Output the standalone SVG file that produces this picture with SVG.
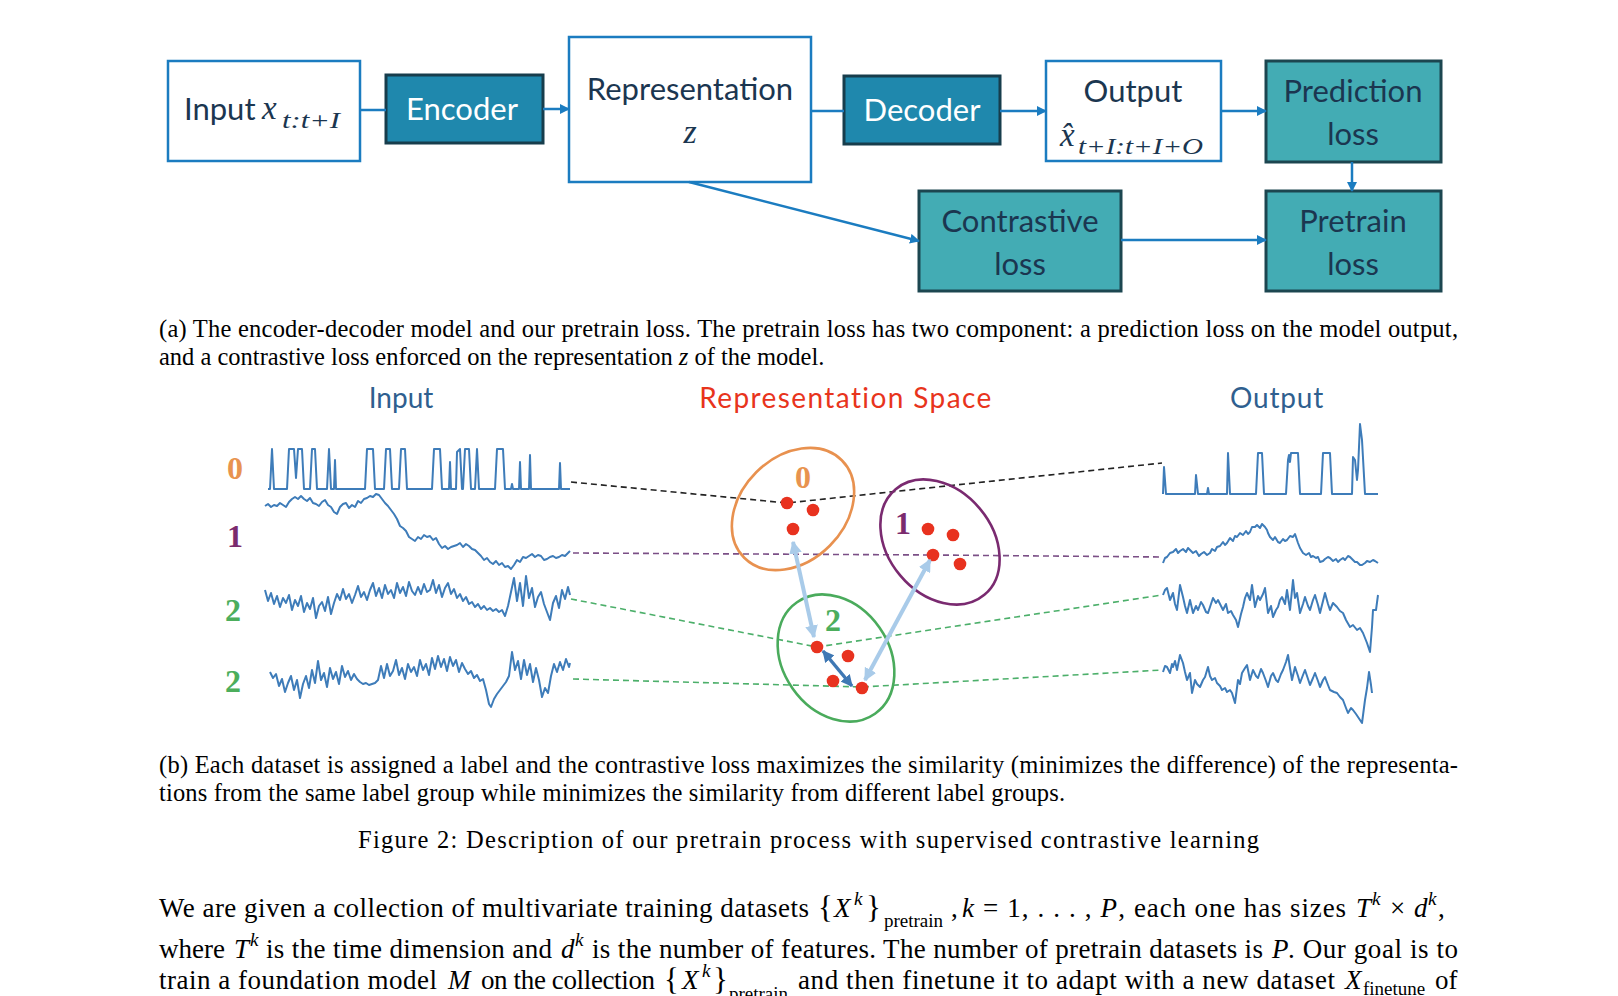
<svg xmlns="http://www.w3.org/2000/svg" width="1618" height="996" viewBox="0 0 1618 996">
<defs>
<style>
.bw{fill:#fff;stroke:#1b7cc0;stroke-width:2.5}
.bd{fill:#1f88ad;stroke:#173d4c;stroke-width:3}
.bt{fill:#43acb4;stroke:#1c4650;stroke-width:3}
.lb{font-family:Lato,"Open Sans",sans-serif;font-size:31px;text-anchor:middle}
.dk{fill:#1b3650}
.wt{fill:#fff}
.mi{font-family:"Liberation Serif",serif;font-style:italic}
.conn{stroke:#1b7cc0;stroke-width:2.5;fill:none}
.cap{font-family:"Liberation Serif",serif;font-size:24.5px;fill:#000}
.body{font-family:"Liberation Serif",serif;font-size:27px;fill:#000}
.it{font-style:italic}
.sm{font-size:19px}
.ts{fill:none;stroke:#3e7cb9;stroke-width:2;stroke-linejoin:round}
.dash{fill:none;stroke-width:1.6;stroke-dasharray:6 4}
.num{font-family:"Liberation Serif",serif;font-weight:bold;font-size:32px;text-anchor:middle}
.ttl{font-family:Lato,"Open Sans",sans-serif;font-size:28px;text-anchor:middle}
.dot{fill:#e8321f}
</style>
<marker id="ah" viewBox="0 0 10 10" refX="9" refY="5" markerWidth="4" markerHeight="4" orient="auto-start-reverse"><path d="M0,0 L10,5 L0,10 z" fill="#1b7cc0"/></marker>
<marker id="lb" viewBox="0 0 10 10" refX="9" refY="5" markerWidth="3.2" markerHeight="3.2" orient="auto-start-reverse"><path d="M0,0 L10,5 L0,10 z" fill="#a9cbe9"/></marker>
<marker id="db" viewBox="0 0 10 10" refX="9" refY="5" markerWidth="3.4" markerHeight="3.4" orient="auto-start-reverse"><path d="M0,0 L10,5 L0,10 z" fill="#3f78b4"/></marker>
</defs>
<rect width="1618" height="996" fill="#fff"/>

<!-- (a) nodes -->
<g id="input">
<rect class="bw" x="168" y="61" width="192" height="100"/>
<text x="184" y="120" font-family="Lato,'Open Sans',sans-serif" font-size="31" class="dk">Input</text>
<text x="262" y="119" class="mi dk" font-size="33">x</text>
<text x="282" y="128" class="mi dk" font-size="24" textLength="58" lengthAdjust="spacingAndGlyphs">t:t+I</text>
</g>
<g id="encoder">
<rect class="bd" x="386" y="75" width="157" height="68"/>
<text class="lb wt" x="462" y="120">Encoder</text>
</g>
<g id="representation">
<rect class="bw" x="569" y="37" width="242" height="145"/>
<text class="lb dk" x="690" y="100">Representation</text>
<text class="mi dk" x="690" y="143" font-size="34" text-anchor="middle">z</text>
</g>
<g id="decoder">
<rect class="bd" x="844" y="76" width="156" height="68"/>
<text class="lb wt" x="922" y="121">Decoder</text>
</g>
<g id="output">
<rect class="bw" x="1046" y="61" width="175" height="100"/>
<text class="lb dk" x="1133" y="102">Output</text>
<text class="mi dk" x="1060" y="146" font-size="33">x&#x302;</text>
<text x="1078" y="154" class="mi dk" font-size="24" textLength="125" lengthAdjust="spacingAndGlyphs">t+I:t+I+O</text>
</g>
<g id="prediction-loss">
<rect class="bt" x="1266" y="61" width="175" height="101"/>
<text class="lb dk" x="1353" y="102">Prediction</text>
<text class="lb dk" x="1353" y="145">loss</text>
</g>
<g id="contrastive-loss">
<rect class="bt" x="919" y="191" width="202" height="100"/>
<text class="lb dk" x="1020" y="232">Contrastive</text>
<text class="lb dk" x="1020" y="275">loss</text>
</g>
<g id="pretrain-loss">
<rect class="bt" x="1266" y="191" width="175" height="100"/>
<text class="lb dk" x="1353" y="232">Pretrain</text>
<text class="lb dk" x="1353" y="275">loss</text>
</g>

<g id="connectors">
<line class="conn" x1="360" y1="110" x2="386" y2="110"/>
<line class="conn" x1="543" y1="109" x2="569" y2="109" marker-end="url(#ah)"/>
<line class="conn" x1="811" y1="111" x2="844" y2="111"/>
<line class="conn" x1="1000" y1="111" x2="1046" y2="111" marker-end="url(#ah)"/>
<line class="conn" x1="1221" y1="111" x2="1266" y2="111" marker-end="url(#ah)"/>
<line class="conn" x1="1352" y1="162" x2="1352" y2="191" marker-end="url(#ah)"/>
<line class="conn" x1="689" y1="182" x2="919" y2="241" marker-end="url(#ah)"/>
<line class="conn" x1="1121" y1="240" x2="1266" y2="240" marker-end="url(#ah)"/>
</g>

<!-- caption (a) -->
<text class="cap" x="159" y="337" textLength="1299" lengthAdjust="spacing">(a) The encoder-decoder model and our pretrain loss. The pretrain loss has two component: a prediction loss on the model output,</text>
<text class="cap" x="159" y="365">and a contrastive loss enforced on the representation <tspan class="it">z</tspan> of the model.</text>

<!-- (b) titles -->
<text class="ttl" x="401" y="408" fill="#2f5f8f">Input</text>
<text class="ttl" x="846" y="408" fill="#e8341c" letter-spacing="1.4">Representation Space</text>
<text class="ttl" x="1277" y="408" fill="#2f5f8f" letter-spacing="0.8">Output</text>

<text class="num" x="235" y="479" fill="#e8934f">0</text>
<text class="num" x="235" y="547" fill="#7b2b6e">1</text>
<text class="num" x="233" y="621" fill="#4cae5c">2</text>
<text class="num" x="233" y="692" fill="#4cae5c">2</text>

<!-- dashed links -->
<g id="links">
<polyline class="dash" stroke="#222" points="571,482 787,503 1162,463"/>
<polyline class="dash" stroke="#7b4f86" points="573,553 933,555 1162,557"/>
<polyline class="dash" stroke="#4caf6a" points="571,599 817,647 1162,595"/>
<polyline class="dash" stroke="#4caf6a" points="573,679 862,687 1162,670"/>
</g>

<!-- input series -->
<g id="input-series">
<polyline class="ts" points="268,489 270,489 272,449 274,489 287,489 289,449 294,449 296,478 298,449 302,449 304,489 310,489 312,449 315,449 317,489 327,489 329,449 331,489 334,489 335,460 336,489 365,489 367,449 373,449 375,489 384,489 386,449 390,449 392,489 399,489 401,449 405,449 407,489 432,489 434,449 440,449 442,489 449,489 450,462 451,489 456,489 457,452 460,449 462,489 463,489 465,449 469,449 471,489 475,489 477,449 479,489 495,489 497,449 503,449 505,489 511,489 512,484 513,489 519,489 520,462 521,489 529,489 530,455 531,489 559,489 560,463 561,489 570,489"/>
<polyline class="ts" points="265,506 268,504 271,507 274,505 277,506 280,503 283,505 286,507 289,502 292,499 295,497 298,499 301,496 304,499 307,501 310,498 313,503 316,504 319,506 322,502 325,500 328,505 331,507 334,512 337,514 340,507 343,504 346,503 349,508 352,505 355,507 358,501 361,503 364,499 367,498 370,496 373,497 376,494 379,495 382,499 385,503 388,506 391,510 394,514 397,519 400,526 403,528 406,531 409,537 412,539 415,541 418,537 421,539 424,535 427,537 430,536 433,540 436,538 439,544 442,548 445,546 448,549 451,547 454,546 457,545 460,543 463,547 466,544 469,546 472,549 475,550 478,553 481,556 484,560 487,558 490,562 493,564 496,561 499,565 502,563 505,567 508,566 511,569 514,565 517,560 520,562 523,557 526,558 529,556 532,554 535,557 538,555 541,556 544,560 547,559 550,557 553,556 556,558 559,557 562,555 565,556 568,553 570,551"/>
<polyline class="ts" points="265,590 268,601 271,593 274,604 277,596 280,607 283,598 286,603 289,595 292,610 295,600 298,606 301,596 304,612 307,603 310,609 313,598 316,618 319,606 322,602 325,611 328,597 331,614 334,603 337,594 340,600 343,589 346,599 349,594 352,603 355,595 358,586 361,597 364,592 367,600 370,590 373,583 376,596 379,588 382,598 385,585 388,594 391,590 394,598 397,583 400,593 403,587 406,596 409,582 412,591 415,595 418,587 421,594 424,584 427,592 430,590 433,580 436,593 439,585 442,597 445,588 448,583 451,594 454,589 457,598 460,594 463,601 466,597 469,604 472,602 475,607 478,604 481,609 484,606 487,610 490,608 493,611 496,609 499,612 502,610 505,616 508,606 511,592 514,578 517,601 520,583 523,606 526,576 529,598 532,588 535,607 538,597 541,592 544,604 547,612 550,620 553,603 556,596 559,608 562,590 565,599 568,587 570,595"/>
<polyline class="ts" points="270,672 273,678 276,674 279,686 282,679 285,692 288,683 291,676 294,690 297,680 300,698 303,684 306,676 309,688 312,670 315,683 318,661 321,680 324,673 327,687 330,668 333,679 336,672 339,684 342,666 345,677 348,671 351,680 354,674 357,679 360,682 363,684 366,683 369,685 372,684 375,683 378,680 381,666 384,678 387,664 390,676 393,671 396,660 399,675 402,668 405,679 408,664 411,672 414,667 417,676 420,660 423,670 426,664 429,675 432,658 435,669 438,656 441,667 444,659 447,671 450,657 453,666 456,660 459,672 462,663 465,669 468,674 471,671 474,678 477,675 480,681 483,679 486,690 489,704 491,707 494,699 497,694 500,690 503,686 506,682 509,676 512,652 515,670 518,661 521,679 524,660 527,675 530,664 533,682 536,668 539,680 542,697 545,688 548,693 551,676 554,664 557,672 560,662 563,670 566,659 569,667 570,663"/>
</g>

<!-- output series -->
<g id="output-series">
<polyline class="ts" points="1163,494 1164,467 1166,494 1195,494 1196,475 1198,494 1207,494 1208,488 1209,494 1227,494 1228,453 1230,494 1256,494 1258,453 1262,453 1264,494 1286,494 1288,460 1289,455 1290,462 1291,453 1298,453 1300,494 1321,494 1323,453 1330,453 1332,494 1352,494 1353,457 1355,460 1357,480 1358,470 1360,424 1362,440 1365,494 1378,494"/>
<polyline class="ts" points="1163,563 1165,558 1167,557 1170,553 1173,552 1176,549 1178,553 1180,551 1183,549 1186,552 1188,548 1190,550 1193,553 1196,551 1199,556 1201,554 1204,552 1207,555 1210,553 1212,549 1215,551 1217,547 1220,546 1223,542 1225,545 1227,543 1230,538 1233,541 1235,536 1237,537 1240,533 1243,535 1246,531 1248,534 1250,532 1252,527 1255,527 1257,525 1260,528 1262,524 1265,527 1267,530 1268,533 1270,537 1273,540 1275,537 1278,542 1280,543 1283,539 1285,541 1287,540 1290,536 1293,537 1295,534 1298,543 1300,548 1303,553 1306,555 1309,553 1311,557 1313,556 1316,558 1318,557 1320,562 1323,561 1325,559 1328,557 1330,558 1333,561 1336,559 1338,562 1340,560 1343,558 1345,560 1348,556 1350,557 1353,560 1355,562 1357,562 1360,565 1362,565 1365,563 1367,561 1370,562 1373,560 1375,561 1378,563"/>
<polyline class="ts" points="1163,595 1165,590 1167,588 1170,600 1173,593 1175,604 1177,610 1180,585 1183,597 1185,606 1187,613 1190,600 1193,613 1196,606 1198,610 1201,602 1203,605 1206,612 1208,613 1211,604 1213,598 1216,603 1218,600 1221,606 1223,610 1226,604 1228,613 1231,611 1233,615 1236,620 1238,627 1241,614 1243,607 1245,598 1247,593 1250,600 1252,585 1255,607 1258,596 1260,600 1263,594 1265,588 1268,613 1271,606 1273,617 1276,610 1278,607 1280,600 1282,597 1285,604 1287,590 1290,610 1293,580 1295,598 1297,593 1300,613 1303,604 1305,597 1308,606 1310,610 1313,600 1315,595 1318,605 1320,613 1323,601 1325,593 1328,604 1330,610 1333,603 1337,607 1340,611 1343,613 1346,620 1350,627 1353,625 1357,630 1360,628 1363,633 1365,638 1367,643 1370,652 1372,627 1373,610 1376,610 1378,595"/>
<polyline class="ts" points="1163,672 1165,666 1167,667 1170,673 1172,664 1173,667 1175,661 1177,670 1180,655 1183,663 1185,672 1187,680 1190,673 1192,693 1195,680 1197,684 1200,687 1203,680 1205,677 1208,667 1210,676 1212,680 1215,678 1217,683 1220,686 1222,690 1225,688 1227,692 1230,690 1232,693 1235,703 1238,680 1240,684 1242,673 1245,668 1247,665 1250,680 1253,670 1256,676 1258,678 1261,669 1263,673 1266,681 1268,687 1271,676 1273,673 1276,680 1278,682 1281,674 1283,670 1286,662 1288,655 1290,668 1292,680 1295,667 1298,676 1300,683 1303,675 1305,670 1308,679 1310,685 1313,678 1315,673 1318,681 1320,687 1323,680 1325,677 1328,685 1330,690 1334,692 1337,693 1340,697 1343,700 1346,708 1348,713 1351,708 1353,710 1356,714 1358,717 1360,720 1362,723 1365,700 1367,688 1369,672 1371,685 1372,693"/>
</g>

<!-- representation space -->
<g id="cluster-0">
<ellipse cx="793" cy="509" rx="69" ry="52" transform="rotate(-45 793 509)" fill="none" stroke="#e8914f" stroke-width="2.6"/>
<text class="num" x="803" y="488" font-size="31" fill="#e8934f">0</text>
<circle class="dot" cx="787" cy="503" r="6.3"/>
<circle class="dot" cx="813" cy="510" r="6.3"/>
<circle class="dot" cx="793" cy="529" r="6.3"/>
</g>
<g id="cluster-1">
<ellipse cx="940" cy="542" rx="69" ry="52" transform="rotate(50 940 542)" fill="none" stroke="#7a2a70" stroke-width="2.6"/>
<text class="num" x="903" y="534" font-size="31" fill="#7b2b6e">1</text>
<circle class="dot" cx="928" cy="529" r="6.3"/>
<circle class="dot" cx="953" cy="535" r="6.3"/>
<circle class="dot" cx="933" cy="555" r="6.3"/>
<circle class="dot" cx="960" cy="564" r="6.3"/>
</g>
<g id="cluster-2">
<ellipse cx="836" cy="658" rx="68" ry="53" transform="rotate(55 836 658)" fill="none" stroke="#4aab5c" stroke-width="2.6"/>
<text class="num" x="833" y="631" font-size="31" fill="#4cae5c">2</text>
<circle class="dot" cx="817" cy="647" r="6.3"/>
<circle class="dot" cx="848" cy="656" r="6.3"/>
<circle class="dot" cx="833" cy="681" r="6.3"/>
<circle class="dot" cx="862" cy="688" r="6.3"/>
</g>
<g id="similarity-arrows">
<line x1="793" y1="542" x2="814" y2="637" stroke="#a9cbe9" stroke-width="4" marker-start="url(#lb)" marker-end="url(#lb)"/>
<line x1="930" y1="560" x2="865" y2="680" stroke="#a9cbe9" stroke-width="4" marker-start="url(#lb)" marker-end="url(#lb)"/>
<line x1="823" y1="651" x2="852" y2="686" stroke="#3f78b4" stroke-width="3.5" marker-start="url(#db)" marker-end="url(#db)"/>
</g>

<!-- caption (b) -->
<text class="cap" x="159" y="773" textLength="1299" lengthAdjust="spacing">(b) Each dataset is assigned a label and the contrastive loss maximizes the similarity (minimizes the difference) of the representa-</text>
<text class="cap" x="159" y="801" textLength="906" lengthAdjust="spacing">tions from the same label group while minimizes the similarity from different label groups.</text>
<text class="cap" x="358" y="848" font-size="27.5" textLength="901" lengthAdjust="spacing">Figure 2: Description of our pretrain process with supervised contrastive learning</text>

<!-- body text -->
<g class="body">
<text x="159" y="917" textLength="650" lengthAdjust="spacing">We are given a collection of multivariate training datasets</text>
<text x="818" y="918" font-size="31">{</text>
<text x="834" y="917" class="it">X</text>
<text x="854" y="905" class="it sm">k</text>
<text x="866" y="918" font-size="31">}</text>
<text x="884" y="927" class="sm">pretrain</text>
<text x="951" y="917">,</text>
<text x="962" y="917" textLength="163" lengthAdjust="spacing"><tspan class="it">k</tspan> = 1, . . . , <tspan class="it">P</tspan>,</text>
<text x="1134" y="917" textLength="212" lengthAdjust="spacing">each one has sizes</text>
<text x="1356" y="917" class="it">T</text>
<text x="1372" y="905" class="it sm">k</text>
<text x="1390" y="917">×</text>
<text x="1414" y="917" class="it">d</text>
<text x="1428" y="905" class="it sm">k</text>
<text x="1438" y="917">,</text>

<text x="159" y="958">where</text>
<text x="234" y="958" class="it">T</text>
<text x="250" y="946" class="it sm">k</text>
<text x="266" y="958" textLength="286" lengthAdjust="spacing">is the time dimension and</text>
<text x="561" y="958" class="it">d</text>
<text x="575" y="946" class="it sm">k</text>
<text x="592" y="958" textLength="671" lengthAdjust="spacing">is the number of features. The number of pretrain datasets is</text>
<text x="1272" y="958" class="it">P</text>
<text x="1288" y="958" textLength="170" lengthAdjust="spacing">. Our goal is to</text>

<text x="159" y="989" textLength="278" lengthAdjust="spacing">train a foundation model</text>
<text x="448" y="989" class="it">M</text>
<text x="481" y="989" textLength="174" lengthAdjust="spacing">on the collection</text>
<text x="664" y="990" font-size="31">{</text>
<text x="682" y="989" class="it">X</text>
<text x="702" y="977" class="it sm">k</text>
<text x="713" y="990" font-size="31">}</text>
<text x="729" y="1000" class="sm">pretrain</text>
<text x="798" y="989" textLength="537" lengthAdjust="spacing">and then finetune it to adapt with a new dataset</text>
<text x="1345" y="989" class="it">X</text>
<text x="1363" y="995" class="sm">finetune</text>
<text x="1435" y="989">of</text>
</g>
</svg>
